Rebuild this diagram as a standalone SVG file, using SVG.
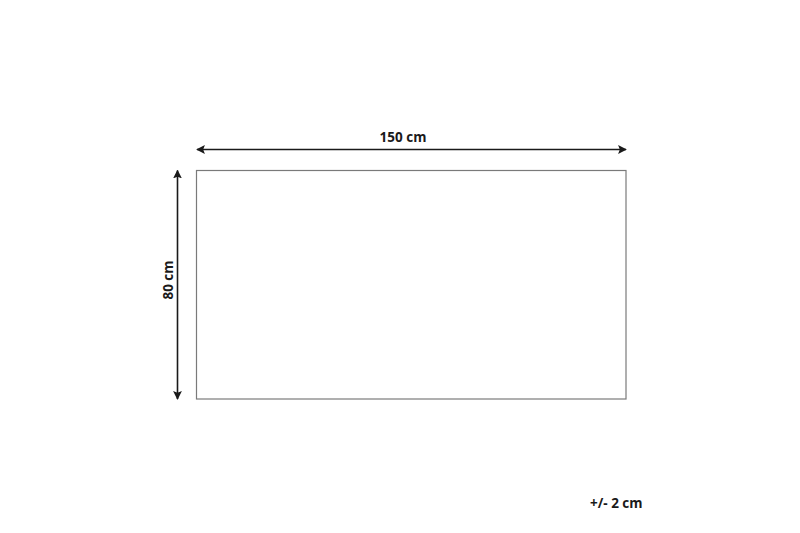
<svg xmlns="http://www.w3.org/2000/svg" width="800" height="533" viewBox="0 0 800 533">
<style>
.lbl{font-family:"Open Sans","Liberation Sans",Arial,sans-serif;font-weight:bold;font-size:13.5px;fill:#1a1a1a}
.dim{stroke:#1a1a1a;stroke-width:1.6;fill:none}
</style>
<defs>
<marker id="ah" viewBox="0 0 10 10" refX="9" refY="5" markerWidth="5.5" markerHeight="5.5" orient="auto-start-reverse" markerUnits="strokeWidth">
<path d="M0,0 L10,5 L0,10 L2,5 Z" fill="#1a1a1a"/>
</marker>
</defs>
<rect width="800" height="533" fill="#ffffff"/>
<g id="rug">
<rect x="196.5" y="170.5" width="429.5" height="228.5" fill="#ffffff" stroke="#7a7a7a" stroke-width="1.2"/>
</g>
<g id="connectors">
<line class="dim" x1="197" y1="149.5" x2="626" y2="149.5" marker-start="url(#ah)" marker-end="url(#ah)"/>
<line class="dim" x1="177.5" y1="170.5" x2="177.5" y2="399" marker-start="url(#ah)" marker-end="url(#ah)"/>
</g>
<g id="label-width">
<text class="lbl" x="403" y="142" text-anchor="middle">150 cm</text>
</g>
<g id="label-height">
<text class="lbl" x="0" y="0" text-anchor="middle" transform="translate(172.5,280) rotate(-90)">80 cm</text>
</g>
<g id="label-tolerance">
<text class="lbl" x="590" y="508">+/- 2 cm</text>
</g>
</svg>
